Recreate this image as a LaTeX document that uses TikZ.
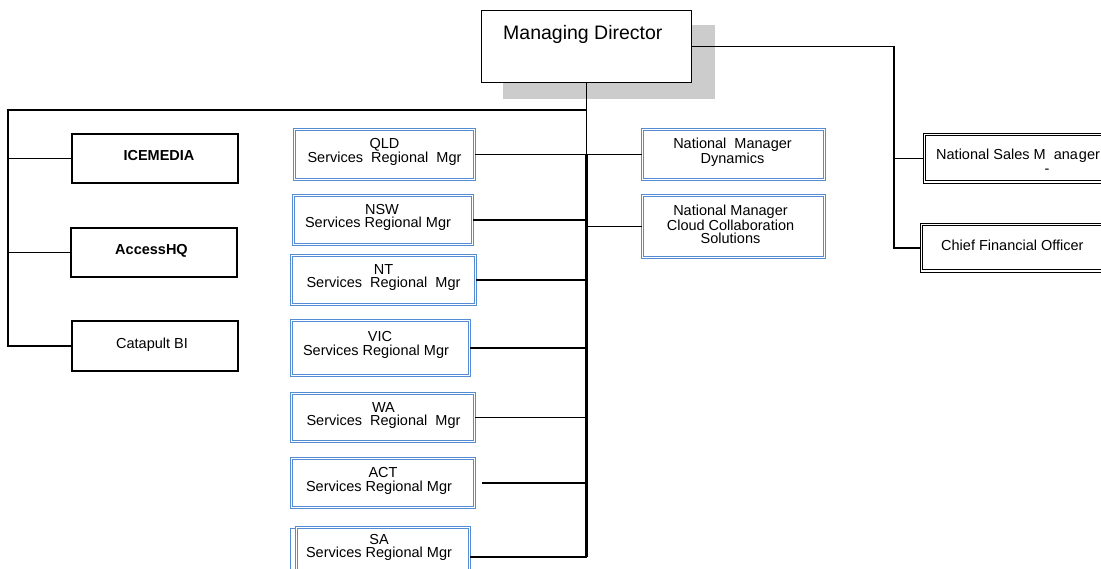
\documentclass[tikz,border=0pt]{standalone}
\usepackage{fontspec}
\setmainfont{Liberation Sans}
\definecolor{bx}{RGB}{84,141,212}
\definecolor{shd}{RGB}{204,204,204}
\begin{document}
\begin{tikzpicture}[x=1pt,y=-1pt,
  bluebox/.style={draw=bx, double=white, double distance=1.6pt, line width=0.9pt, fill=white, inner sep=0pt},
  blackbox/.style={draw=black, line width=1.6pt, fill=white, inner sep=0pt},
  dblbox/.style={draw=black, double=white, double distance=1.5pt, line width=1pt, fill=white, inner sep=0pt},
  small/.style={font=\fontsize{14.5}{13.5}\selectfont, align=center, inner sep=0pt},
  big/.style={font=\fontsize{19.5}{22}\selectfont, inner sep=0pt},
  conn/.style={line width=1.5pt},
  spine/.style={line width=2.8pt}]
\useasboundingbox (0,0) rectangle (1101,569);

% Managing Director with shadow
\fill[shd] (503,25) rectangle (715,99);
\node[blackbox, minimum width=210pt, minimum height=72pt] (md) at (586.5,46.5) {};
\node[big, anchor=base west] (mdt) at (503,40) {Managing Director};

% left black boxes
\node[blackbox, minimum width=166.5pt, minimum height=49.5pt] (ice) at (155,158.5) {};
\node[small, anchor=base] (icet) at ([xshift=4pt,yshift=-2.5pt]ice.center) {\bfseries ICEMEDIA};
\node[blackbox, minimum width=166.5pt, minimum height=49.5pt] (acc) at (154,252.5) {};
\node[small, anchor=base] (acct) at ([xshift=-2.5pt,yshift=-2.5pt]acc.center) {\bfseries AccessHQ};
\node[blackbox, minimum width=166.5pt, minimum height=50.5pt] (cat) at (155,346) {};
\node[small, anchor=base] (catt) at ([xshift=-3pt,yshift=-3pt]cat.center) {Catapult BI};

% regional blue boxes
\node[bluebox, minimum width=179.8pt, minimum height=49.8pt] (qld) at (384.5,154.5) {};
\node[small] (qldt) at ([yshift=2.5pt]qld.center) {QLD\\Services\ \ Regional\ \ Mgr};
\node[bluebox, minimum width=178.8pt, minimum height=48.8pt] (nsw) at (383,220) {};
\node[small] (nswt) at ([xshift=-1pt,yshift=2.5pt]nsw.center) {NSW\\Services Regional Mgr\kern8pt};
\node[bluebox, minimum width=183.8pt, minimum height=48.8pt] (nt) at (383.5,280) {};
\node[small] (ntt) at ([yshift=2.5pt]nt.center) {NT\\Services\ \ Regional\ \ Mgr};
\node[bluebox, minimum width=177.8pt, minimum height=54.8pt] (vic) at (380.5,348) {};
\node[small] (vict) at ([xshift=-0.5pt,yshift=3pt]vic.center) {VIC\\Services Regional Mgr\kern8pt};
\node[bluebox, minimum width=182.8pt, minimum height=47.8pt] (wa) at (383,417.5) {};
\node[small] (wat) at ([xshift=0.5pt,yshift=2pt]wa.center) {WA\\Services\ \ Regional\ \ Mgr};
\node[bluebox, minimum width=182.8pt, minimum height=48.8pt] (act) at (383,483) {};
\node[small] (actt) at ([yshift=2pt]act.center) {ACT\\Services Regional Mgr\kern8pt};
\draw[bx, line width=0.9pt] (296,528) -- (290,528) -- (290,575);
\node[bluebox, minimum width=172.8pt, minimum height=58.8pt] (sa) at (383,557) {};
\node[small] (sat) at (379,547.5) {SA\\Services Regional Mgr};

% national managers
\node[bluebox, minimum width=181.8pt, minimum height=49.8pt] (nmd) at (733.5,154.5) {};
\node[small] (nmdt) at ([xshift=-1pt,yshift=2pt]nmd.center) {National\ \ Manager\\Dynamics};
\node[bluebox, minimum width=181.8pt, minimum height=61.8pt] (nmcc) at (733.5,226.5) {};
\node[small] (nmcct) at ([xshift=-3pt,yshift=2pt]nmcc.center) {National Manager\\Cloud Collaboration\\Solutions};

% right double boxes
\node[dblbox, minimum width=200pt, minimum height=47.5pt] (nsm) at (1024.7,158.5) {};
\node[small, anchor=base west] (nsmt) at (936,159.5) {National Sales M\kern8pt ana\kern1pt ger};
\node[small] (nsmd) at (1047,171.5) {-};
\node[dblbox, minimum width=200pt, minimum height=46.5pt] (cfo) at (1021.7,248) {};
\node[small, anchor=base west] (cfot) at (941,250.7) {Chief Financial Officer};

% connectors
\coordinate (j) at (md.south |- 0,110);
\coordinate (lt) at (8,110);
\coordinate (rt) at (894,46.5);
\coordinate (rm) at (894,123);
\draw[conn] (md.south) -- (j) -- (lt) |- (cat.west);
\draw[conn] (ice.west) -- (ice.west -| lt);
\draw[conn] (acc.west) -- (acc.west -| lt);
\draw[conn] (j) -- (qld.east -| md.south);
\draw[spine] (qld.east -| md.south) -- (sa.east -| md.south);
\draw[conn] (qld.east) -- (nmd.west);
\draw[conn] (nsw.east) -- (nsw.east -| md.south);
\draw[conn] (nt.east) -- (nt.east -| md.south);
\draw[conn] (vic.east) -- (vic.east -| md.south);
\draw[conn] (wa.east) -- (wa.east -| md.south);
\draw[conn] ([xshift=7.5pt]act.east) -- (act.east -| md.south);
\draw[conn] (sa.east) -- (sa.east -| md.south);
\draw[conn] (nmcc.west) -- (nmcc.west -| md.south);
\draw[conn] (md.east) -- (rt);
\draw[spine] (rt) -- (rm);
\draw[conn] (rm) |- (cfo.west);
\draw[conn] (nsm.west) -- (nsm.west -| rm);
\end{tikzpicture}
\end{document}
